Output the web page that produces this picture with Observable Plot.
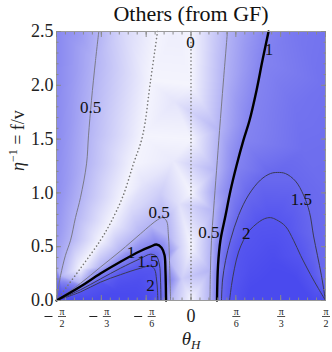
<!DOCTYPE html>
<html><head><meta charset="utf-8">
<script src="https://cdn.jsdelivr.net/npm/d3@7"></script>
<script src="https://cdn.jsdelivr.net/npm/@observablehq/plot@0.6"></script>
<style>body{margin:0;background:#fff} svg{display:block} svg text{font-family:"Liberation Serif","DejaVu Serif","Noto Serif","Tinos","Times New Roman",Times,"FreeSerif",serif}</style>
</head><body><div id="chart"></div>
<script>
// θ_H in degrees, η^-1 value ; contour lines
const c0Left   = [[-22.4,2.5],[-27.1,2.04],[-32.4,1.53],[-38.5,1.27],[-45.8,0.96],[-53.9,0.72],[-60.6,0.56],[-73.9,0.30],[-90,0]];
const c0Center = [[0,2.5],[0,2.0],[0,1.5],[0,1.0],[0,0.5],[0,0]];
const c05Upper = [[-61.7,2.5],[-63.9,2.23],[-66.6,1.86],[-68.6,1.53],[-69.9,1.27],[-73.9,0.96],[-77.3,0.77],[-80.6,0.56],[-84.0,0.42],[-87.3,0.23],[-90,0]];
const c05Arch  = [[-90,0],[-73.9,0.16],[-60.6,0.31],[-47.2,0.46],[-33.8,0.62],[-27.1,0.70],[-22.4,0.75],[-19.1,0.77],[-16.4,0.74],[-15.1,0.60],[-14.4,0.37],[-13.7,0]];
const c1Left   = [[-90,0],[-73.9,0.13],[-60.6,0.25],[-47.2,0.36],[-33.8,0.46],[-27.1,0.50],[-23.1,0.52],[-19.7,0.49],[-17.7,0.42],[-17.1,0.28],[-16.7,0]];
const c15Left  = [[-90,0],[-73.9,0.10],[-60.6,0.20],[-47.2,0.30],[-33.8,0.39],[-27.1,0.43],[-23.1,0.41],[-21.1,0.33],[-20.4,0.19],[-20.1,0]];
const c2Left   = [[-90,0],[-73.9,0.08],[-60.6,0.17],[-47.2,0.24],[-33.8,0.30],[-27.1,0.32],[-24.4,0.29],[-23.1,0.20],[-22.4,0.09],[-22.2,0]];
const c05Right = [[24.4,2.5],[21.7,2.04],[19.1,1.58],[17.1,1.21],[15.1,0.84],[13.7,0.56],[13.0,0.28],[12.7,0]];
const c1Right  = [[51.9,2.5],[47.8,2.23],[43.8,1.95],[39.1,1.67],[35.1,1.49],[30.4,1.25],[26.4,1.02],[23.1,0.79],[19.7,0.56],[18.1,0.33],[17.4,0]];
const c15Right = [[20.4,0],[21.1,0.19],[23.1,0.37],[26.4,0.56],[31.8,0.79],[38.5,0.98],[46.5,1.12],[53.2,1.18],[57.9,1.19],[63.2,1.18],[69.9,1.11],[75.3,0.98],[79.3,0.82],[82.0,0.60],[84.6,0.42],[87.3,0.23],[90,0]];
const c2Right  = [[25.8,0],[27.1,0.14],[29.1,0.30],[31.8,0.45],[35.1,0.56],[39.1,0.65],[44.5,0.72],[49.2,0.76],[53.2,0.77],[57.2,0.75],[63.2,0.69],[68.6,0.56],[73.3,0.42],[80.0,0.24],[85.3,0.11],[90,0]];

// extra sampled values of the shaded field [θ, η, value]
const fieldSamples = [
  [-90,2.5,0.95],[-90,2.0,0.94],[-90,1.5,0.92],[-90,1.0,0.88],[-90,0.6,0.78],[-90,0.3,0.65],
  [-76,2.5,0.78],[-45,2.5,0.22],[-11,2.5,0.05],[12,2.5,0.25],[38,2.5,0.75],[70,2.5,1.22],[90,2.5,1.3],
  [90,2.0,1.33],[90,1.5,1.38],[90,1.0,1.43],[90,0.5,1.47],[90,0.15,1.49],
  [70,1.8,1.3],[75,1.4,1.38],
  [-11,1.85,0.12],[-12,1.3,0.08],[-8,0.9,0.15],[-7,0.5,0.25],[-6,0.2,0.3],[-32,1.1,0.12],[-20,1.0,0.3],[-40,0.85,0.2],
  [-86,0,2.4],[-80,0,2.5],[-60,0,2.6],[-40,0,2.6],[-28,0,2.4],[40,0,2.6],[60,0,2.7],[80,0,2.5],[88,0,2.4],
  [-50,0.1,2.4],[-35,0.18,2.3],
  [40,0.3,2.3],[55,0.4,2.4],[55,0.15,2.6],[70,0.2,2.5]
];

const labelText = ["0.5","0","1","0.5","0.5","1","1.5","2","1.5","2"];
const labelX    = [-67.2,-0.3,52.2,-21.4,12.0,-40.1,-28.8,-27.1,73.9,37.0];
const labelY    = [1.79,2.40,2.33,0.82,0.63,0.45,0.36,0.135,0.94,0.62];

const yTicks = [0,0.5,1,1.5,2,2.5];
const xTicks = [-90,-60,-30,0,30,60,90];
const xTickSign = ["−","−","−","","","",""];
const xTickNum  = ["π","π","π","0","π","π","π"];
const xTickDen  = ["2","3","6","","6","3","2"];
const xMinor = d3.range(-90, 90.1, 6);
const yMinor = d3.range(0, 2.501, 0.1);

const title = "Others (from GF)";
const xLabel = "θH";
const yLabel = "η−1 = f/v";

const levels = [
  {pts:c0Left,v:0,id:"a"},{pts:c0Center,v:0,id:"b"},
  {pts:c05Upper,v:0.5,id:"c"},{pts:c05Arch,v:0.5,id:"d"},{pts:c05Right,v:0.5,id:"e"},
  {pts:c1Left,v:1,id:"f"},{pts:c1Right,v:1,id:"g"},
  {pts:c15Left,v:1.5,id:"h"},{pts:c2Left,v:2,id:"i"},{pts:c15Right,v:1.5,id:"j"},{pts:c2Right,v:2,id:"k"}
];
const rows = (sel) => levels.filter(sel).flatMap(l => l.pts.map(([x,y]) => ({x,y,id:l.id})));

const fill = [];
for (const l of levels) for (const [x,y] of l.pts) {
  if (y === 0 && Math.abs(x) === 90) continue;
  fill.push({x, y, v: l.v});
}
for (const [x,y,v] of fieldSamples) fill.push({x,y,v});

const labels = labelText.map((t,i) => ({t, x: labelX[i], y: labelY[i]}));
const xt = xTicks.map((x,i) => ({x, s:xTickSign[i], n:xTickNum[i], d:xTickDen[i], f: xTickNum[i] + "\n" + xTickDen[i]}));
const fracNeg = xt.filter(d => d.d && d.s);
const fracPos = xt.filter(d => d.d && !d.s);
const zeroT = xt.filter(d => !d.d);

const hbar = {draw(ctx, size){ const w = Math.sqrt(size/Math.PI); ctx.moveTo(-w,0); ctx.lineTo(w,0); }};
const serif = "Liberation Serif, DejaVu Serif, Noto Serif, Tinos, Times New Roman, Times, serif";
const tickColor = "#8a8a8a";

const fracMarks = (data, dx) => [
  Plot.text(data, {x:"x", text:"f", frameAnchor:"bottom", lineAnchor:"middle", dy:16.5, dx, fontSize:10, lineHeight:1.22, fontFamily:serif, fill:"#222"}),
  Plot.dot(data, {x:"x", frameAnchor:"bottom", dy:16, dx, symbol:hbar, r:4, stroke:"#222", strokeWidth:0.8})
];

const plot = Plot.plot({
  width: 332, height: 352,
  marginLeft: 56, marginRight: 7, marginTop: 31, marginBottom: 52,
  style: {fontFamily: serif, background: "#fff", overflow: "visible"},
  x: {domain: [-90, 90]},
  y: {domain: [0, 2.5]},
  color: {type: "linear", domain: [0,0.25,0.5,0.75,1,1.25,1.5,2,2.5],
          range: ["#f4f4fd","#d4d4f9","#b4b4f5","#9a9af2","#8484f0","#7676ef","#6868ee","#5656ef","#4a4aee"],
          interpolate: "rgb", clamp: true},
  marks: [
    Plot.raster(fill, {x:"x", y:"y", fill:"v", interpolate:"barycentric", x1:-90, x2:90, y1:0, y2:2.5, pixelSize:1}),
    Plot.line(rows(l => l.v === 0), {x:"x", y:"y", z:"id", curve:"catmull-rom", stroke:"#777", strokeWidth:1.6, strokeDasharray:"0.1,3.6", strokeLinecap:"round"}),
    Plot.line(rows(l => l.v === 0.5), {x:"x", y:"y", z:"id", curve:"catmull-rom", stroke:"#7a7a88", strokeWidth:1}),
    Plot.line(rows(l => l.v >= 1.5), {x:"x", y:"y", z:"id", curve:"catmull-rom", stroke:"#3a3a55", strokeWidth:1}),
    Plot.line(rows(l => l.v === 1), {x:"x", y:"y", z:"id", curve:"catmull-rom", stroke:"#000", strokeWidth:2.4}),
    Plot.text(labels, {x:"x", y:"y", text:"t", fontSize:17, fontFamily:serif, fill:"#111"}),
    Plot.frame({stroke:"#9a9a9a"}),
    Plot.axisY({ticks:yTicks, tickFormat:d3.format(".1f"), tickSize:0, tickPadding:3, fontSize:18, fontFamily:serif, label:null, fill:"#222"}),
    Plot.axisY({anchor:"left", ticks:yTicks, tickSize:-5, tickFormat:()=>"", label:null, stroke:tickColor}),
    Plot.axisY({anchor:"left", ticks:yMinor, tickSize:-2.5, tickFormat:()=>"", label:null, stroke:tickColor}),
    Plot.axisY({anchor:"right", ticks:yTicks, tickSize:-5, tickFormat:()=>"", label:null, stroke:tickColor}),
    Plot.axisY({anchor:"right", ticks:yMinor, tickSize:-2.5, tickFormat:()=>"", label:null, stroke:tickColor}),
    Plot.axisX({anchor:"bottom", ticks:xTicks, tickSize:-5, tickFormat:()=>"", label:null, stroke:tickColor}),
    Plot.axisX({anchor:"bottom", ticks:xMinor, tickSize:-2.5, tickFormat:()=>"", label:null, stroke:tickColor}),
    Plot.axisX({anchor:"top", ticks:xTicks, tickSize:-5, tickFormat:()=>"", label:null, stroke:tickColor}),
    Plot.axisX({anchor:"top", ticks:xMinor, tickSize:-2.5, tickFormat:()=>"", label:null, stroke:tickColor}),
    ...fracMarks(fracNeg, 5.5),
    ...fracMarks(fracPos, 0.5),
    // minus sign of the negative tick labels, drawn as a short stroke
    Plot.dot(fracNeg, {x:"x", frameAnchor:"bottom", dy:16, dx:-8, symbol:hbar, r:4, stroke:"#222", strokeWidth:1}),
    Plot.text(zeroT, {x:"x", text:"n", frameAnchor:"bottom", lineAnchor:"middle", dy:16, fontSize:18, fontFamily:serif, fill:"#222"}),
    Plot.text([title], {frameAnchor:"top", lineAnchor:"middle", dy:-18, fontSize:22, fontFamily:serif, fill:"#111"}),
    Plot.text([xLabel], {frameAnchor:"bottom", lineAnchor:"middle", dy:38, fontSize:19, fontFamily:serif, fill:"#222"}),
    Plot.text([yLabel], {frameAnchor:"left", dx:-38, dy:5, rotate:-90, fontSize:18, fontFamily:serif, fill:"#222"})
  ]
});
document.getElementById("chart").append(plot);

for (const t of plot.querySelectorAll("text")) {
  if (t.textContent === yLabel) t.innerHTML = '<tspan font-style="italic">η</tspan><tspan dy="-7" font-size="12">−1</tspan><tspan dy="7"> = f/v</tspan>';
  else if (t.textContent === xLabel) t.innerHTML = '<tspan font-style="italic">θ</tspan><tspan dy="4" font-size="13" font-style="italic">H</tspan>';
}
</script>
</body></html>
